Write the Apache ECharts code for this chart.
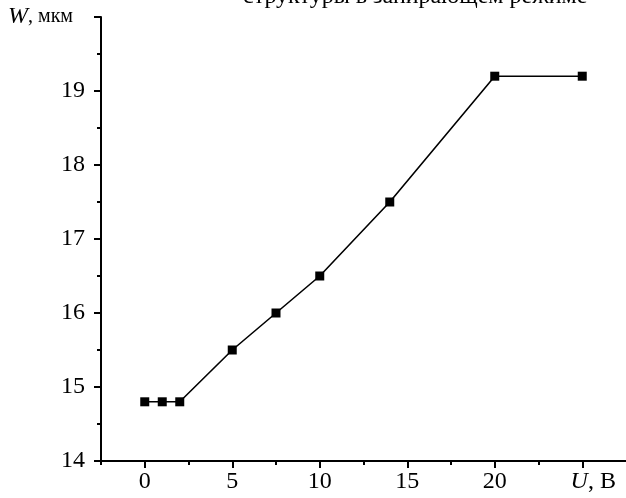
<!DOCTYPE html>
<html>
<head>
<meta charset="utf-8">
<script src="https://cdn.jsdelivr.net/npm/echarts@6/dist/echarts.min.js"></script>
<style>html,body{margin:0;padding:0;background:#fff}#c{width:626px;height:498px}</style>
</head>
<body>
<div id="c"></div>
<script>
const titleText = 'структуры в запирающем режиме';
const uValues = [0, 1, 2, 5, 7.5, 10, 14, 20, 25];
const wValues = [14.8, 14.8, 14.8, 15.5, 16, 16.5, 17.5, 19.2, 19.2];
const xMajorTicks = [0, 5, 10, 15, 20, 25];
const xMinorTicks = [-2.5, 2.5, 7.5, 12.5, 17.5, 22.5];
const xAxisName = 'U';
const yAxisName = 'W';

const FONT = '"Liberation Serif", "Times New Roman", serif';
const FS = 24;
const chart = echarts.init(document.getElementById('c'), null, {renderer: 'canvas'});
const axLine = {onZero: false, lineStyle: {color: '#000', width: 2}};
chart.setOption({
  animation: false,
  backgroundColor: '#fff',
  graphic: [{
    type: 'text', left: 243, top: -15,
    style: {text: titleText, fontFamily: FONT, fontSize: 24, fill: '#000'}
  }],
  grid: {left: 101, top: 17, bottom: 37, right: -11},
  xAxis: [{
    type: 'value', min: -2.5, max: 27.5,
    axisLine: axLine,
    splitLine: {show: false},
    axisTick: {customValues: xMajorTicks, length: 7, lineStyle: {color: '#000', width: 2}},
    axisLabel: {
      customValues: xMajorTicks, margin: 9,
      fontFamily: FONT, fontSize: FS, color: '#000',
      formatter: v => v === 25 ? '{i|' + xAxisName + '}{n|, В}' : String(v),
      rich: {
        i: {fontFamily: FONT, fontSize: FS, fontStyle: 'italic', color: '#000', padding: [0, 0, 0, 22]},
        n: {fontFamily: FONT, fontSize: FS, color: '#000'}
      }
    }
  }, {
    type: 'value', min: -2.5, max: 27.5, position: 'bottom',
    axisLine: {show: false, onZero: false},
    splitLine: {show: false},
    axisTick: {customValues: xMinorTicks, length: 4, lineStyle: {color: '#000', width: 2}},
    axisLabel: {show: false}
  }],
  yAxis: {
    type: 'value', min: 14, max: 20, interval: 1,
    axisLine: axLine,
    splitLine: {show: false},
    axisTick: {length: 7, lineStyle: {color: '#000', width: 2}},
    minorTick: {show: true, splitNumber: 2, length: 4, lineStyle: {color: '#000', width: 2}},
    axisLabel: {
      margin: 16,
      fontFamily: FONT, fontSize: FS, color: '#000',
      formatter: v => v === 20 ? '{i|' + yAxisName + '}{m|, мкм}' : String(v),
      rich: {
        i: {fontFamily: FONT, fontSize: 24, fontStyle: 'italic', color: '#000'},
        m: {fontFamily: FONT, fontSize: 20, color: '#000', padding: [0, 12, 0, 0]}
      }
    }
  },
  series: [{
    type: 'line',
    data: uValues.map((u, i) => [u, wValues[i]]),
    symbol: 'rect', symbolSize: 9,
    lineStyle: {color: '#000', width: 1.6},
    itemStyle: {color: '#000'}
  }]
});
</script>
</body>
</html>
